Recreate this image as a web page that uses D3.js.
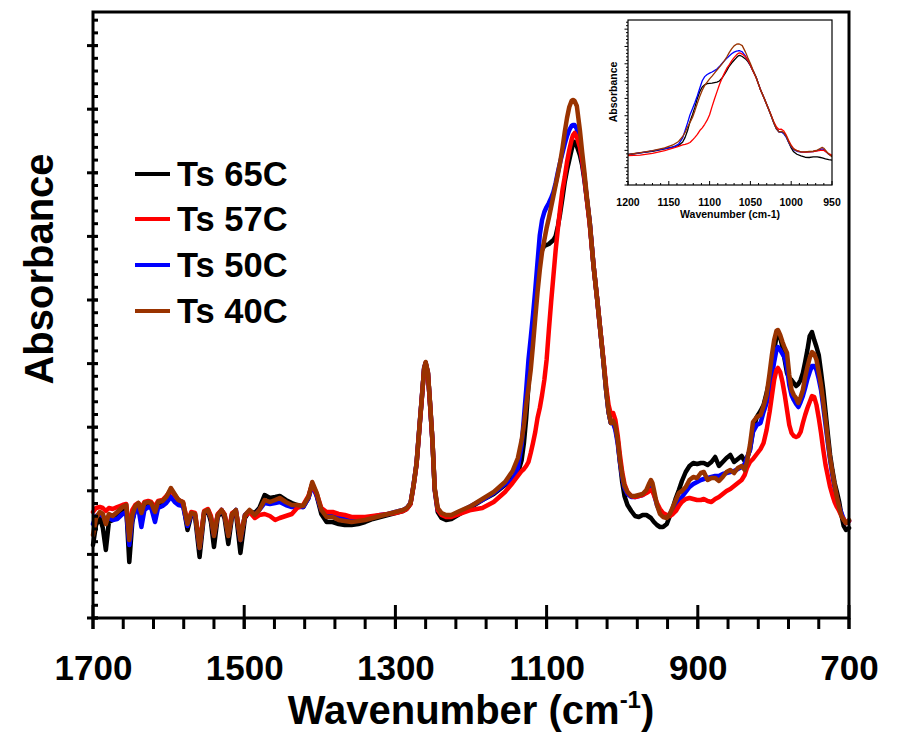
<!DOCTYPE html>
<html><head><meta charset="utf-8">
<script src="https://cdn.jsdelivr.net/npm/d3@7"></script>
<style>
body{margin:0;background:#fff}
text{font-family:"Liberation Sans",Arial,sans-serif;font-weight:bold;fill:#000}
</style>
</head><body>
<svg id="chart" width="899" height="733"></svg>
<script>
// Wavenumber grid (cm-1)
const wavenumbers = [
1700,1696,1691,1687,1683,1679,1674,1668,1661,1656,1652,1648,1644,1640,1636,1632,1627,1623,1618,1614,
1608,1603,1597,1592,1587,1581,1575,1570,1565,1559,1553,1548,1544,1540,1535,1530,1526,1521,1516,1511,
1505,1499,1493,1486,1480,1473,1466,1459,1453,1445,1437,1430,1422,1415,1410,1404,1398,1391,1383,1375,
1367,1358,1349,1340,1330,1320,1310,1300,1290,
1285,1280,1276,1272,1268,1265,1262,1260,1257,1254,1251,1248,1244,1239,1233,
1226,1215,1200,1185,1170,1155,1145,1138,1133,1130,1127,1124,1121,1118,1115,1112,1109,1106,1103,1100,
1097,1094,1091,1088,1085,1082,1079,1076,1073,1070,1067,1065,1063,1060,1056,1053,1050,1047,1043,1038,
1033,1029,1025,1021,1018,1015,1012,1009,1006,1003,1000,997,993,988,983,978,973,968,964,962,
960,958,954,950,946,941,937,933,929,925,921,916,911,906,901,896,892,887,882,877,
872,867,862,857,852,847,842,838,835,831,827,822,817,813,809,805,802,799,796,794,
791,788,785,782,779,776,773,770,767,764,761,758,755,752,749,746,743,740,737,734,
731,728,725,722,719,716,713,710,707,704,701,700];

// Absorbance x1000 (arbitrary offset)
const absTs65 = [
73,93,101,90,68,96,98,102,108,110,56,96,110,113,103,113,114,113,104,114,
116,120,128,123,118,115,88,103,102,61,104,107,96,71,101,107,100,74,102,106,
65,100,107,105,110,123,120,121,122,118,115,113,111,120,134,122,104,96,96,94,
93,93,94,96,99,101,103,105,107,
109,114,132,154,192,220,249,255,245,212,177,128,106,100,98,
99,104,111,118,124,133,140,145,158,175,200,233,258,286,318,343,360,368,372,373,
374,376,378,382,392,405,420,436,448,458,468,474,476,472,463,453,438,420,396,353,
318,288,258,226,206,195,196,190,178,156,136,122,113,107,102,101,103,103,101,100,
98,96,93,91,91,94,102,110,120,128,137,146,152,155,154,155,155,153,156,161,
152,156,160,163,156,159,162,157,160,168,188,201,207,213,225,238,252,268,281,285,
280,271,258,245,240,238,235,232,234,238,245,256,268,282,286,278,271,263,246,228,
206,184,163,148,135,126,116,103,92,88,89,90];

const absTs57 = [
106,110,111,110,107,110,109,111,113,114,85,108,113,115,110,116,117,116,111,117,
118,122,128,123,118,116,96,106,105,73,107,109,102,85,104,108,104,85,105,107,
81,102,106,100,103,104,102,98,100,102,104,110,113,122,134,124,110,106,106,104,
103,101,101,101,102,103,104,105,107,
109,114,132,154,192,220,249,255,245,212,177,129,108,103,101,
101,104,108,110,116,126,135,142,147,149,152,156,165,175,186,200,210,223,238,258,
288,316,342,368,390,410,428,441,456,468,478,483,485,481,471,458,441,420,394,353,
318,288,260,230,213,204,205,198,183,163,146,134,126,122,121,122,123,125,127,128,
127,123,115,109,105,103,102,104,107,112,116,119,120,119,118,118,119,117,116,119,
121,124,127,129,132,135,138,143,150,156,159,164,169,175,188,206,222,238,248,250,
246,236,223,208,193,185,182,181,182,186,195,203,210,216,222,221,213,200,185,168,
153,142,131,123,116,111,107,102,99,95,96,97];

const absTs50 = [
94,102,104,102,98,100,98,99,104,106,73,98,108,110,91,108,111,110,96,110,
112,115,121,116,113,112,92,104,103,70,106,108,100,83,103,108,103,83,104,108,
78,103,107,103,108,115,114,115,116,113,111,111,111,120,133,122,108,104,103,101,
100,98,99,99,101,103,104,106,108,
110,115,133,155,193,221,250,255,245,212,177,129,108,104,102,
102,106,112,118,125,134,138,150,173,200,228,258,280,303,328,356,383,398,406,411,
415,420,426,435,446,456,465,474,482,488,492,493,493,489,473,458,441,421,396,353,
318,288,258,226,206,195,195,188,175,156,141,130,124,121,121,122,123,126,131,133,
130,124,113,106,102,101,104,109,113,117,121,126,131,134,136,138,139,140,141,142,
142,144,145,146,147,149,151,154,160,168,186,193,195,206,215,228,241,256,268,271,
268,264,260,250,233,223,218,214,211,216,222,230,239,246,252,252,248,239,228,211,
193,175,158,143,130,120,111,105,99,95,96,97];

const absTs40 = [
83,100,106,104,94,104,102,106,111,113,78,103,112,115,105,115,116,115,106,116,
117,121,130,124,118,116,94,105,104,70,106,108,100,82,103,108,103,82,104,108,
78,103,108,103,108,118,116,118,120,116,113,113,112,121,136,125,108,101,101,98,
97,96,97,98,100,102,104,106,108,
110,115,133,155,193,221,250,256,246,213,178,130,110,105,103,
103,107,112,119,126,136,147,160,178,193,213,230,248,273,300,326,348,366,378,390,
400,411,422,433,444,456,470,486,500,511,517,518,517,512,488,466,446,423,396,353,
318,288,258,226,206,195,197,192,178,158,143,132,126,122,122,123,124,128,135,138,
135,128,113,104,101,100,104,111,118,125,127,131,138,141,140,145,146,138,140,140,
137,141,146,148,145,150,152,148,156,173,196,201,203,212,223,245,263,278,287,288,
283,276,270,265,243,228,223,220,215,221,228,241,251,260,266,264,258,246,233,216,
198,178,160,146,133,121,111,102,98,95,97,98];

const seriesNames  = ["Ts 65C", "Ts 57C", "Ts 50C", "Ts 40C"];
const seriesValues = [absTs65, absTs57, absTs50, absTs40];
const seriesColors = ["#000000", "#ff0000", "#0000ff", "#993300"];
const drawOrder    = [0, 2, 1, 3];

const xTickLabels      = [1700, 1500, 1300, 1100, 900, 700];
const insetXTickLabels = [1200, 1150, 1100, 1050, 1000, 950];

// ---------- layout / style ----------
const svg = d3.select("#chart");
const P = {l: 93, r: 849, t: 12, b: 618};
const x = d3.scaleLinear().domain([1700, 700]).range([P.l, P.r]);
const y = d3.scaleLinear().domain([0, 606]).range([P.b, P.t]);
const yMajorStep = 63.6, yMinorStep = 12.72;

const n = Math.min(wavenumbers.length, ...seriesValues.map(s => s.length));
const pts = s => d3.range(n).map(i => [wavenumbers[i], s[i]]);

// curves
const line = d3.line().x(d => x(d[0])).y(d => y(d[1]));
const gMain = svg.append("g");
drawOrder.forEach(k => {
  gMain.append("path").datum(pts(seriesValues[k]))
    .attr("d", line).attr("fill", "none")
    .attr("stroke", seriesColors[k]).attr("stroke-width", 4.5)
    .attr("stroke-linejoin", "round").attr("stroke-linecap", "round");
});

// frame
svg.append("rect").attr("x", P.l).attr("y", P.t)
  .attr("width", P.r - P.l).attr("height", P.b - P.t)
  .attr("fill", "none").attr("stroke", "#000").attr("stroke-width", 3);

// x ticks
d3.range(1700, 699, -40).forEach(v => {
  svg.append("line").attr("x1", x(v)).attr("x2", x(v)).attr("y1", P.b).attr("y2", P.b + 11)
    .attr("stroke", "#000").attr("stroke-width", 3);
});
xTickLabels.forEach(v => {
  svg.append("line").attr("x1", x(v)).attr("x2", x(v)).attr("y1", P.b - 13).attr("y2", P.b + 11)
    .attr("stroke", "#000").attr("stroke-width", 3);
});
const xAxis = d3.axisBottom(x).tickValues(xTickLabels).tickSize(0).tickPadding(0).tickFormat(d3.format("d"));
const gx = svg.append("g").attr("transform", `translate(0,${P.b})`).call(xAxis);
gx.select(".domain").remove();
gx.selectAll("text").attr("y", 62).attr("dy", null).style("font-size", "35px")
  .style("font-family", '"Liberation Sans",Arial,sans-serif').style("font-weight", "bold").attr("fill", "#000");

// y ticks (no labels)
const yMaj = d3.range(0, 606, yMajorStep), yMin = d3.range(0, 606, yMinorStep);
yMin.forEach(v => {
  svg.append("line").attr("x1", P.l).attr("x2", P.l + 5).attr("y1", y(v)).attr("y2", y(v))
    .attr("stroke", "#000").attr("stroke-width", 3);
});
yMaj.forEach(v => {
  svg.append("line").attr("x1", P.l - 6).attr("x2", P.l + 5).attr("y1", y(v)).attr("y2", y(v))
    .attr("stroke", "#000").attr("stroke-width", 3);
});

// axis titles
const xt = svg.append("text").attr("x", (P.l + P.r) / 2).attr("y", 724)
  .attr("text-anchor", "middle").style("font-size", "40px");
xt.append("tspan").text("Wavenumber (cm");
xt.append("tspan").text("-1").attr("dy", -16).style("font-size", "24px");
xt.append("tspan").text(")").attr("dy", 16);

svg.append("text").attr("transform", "translate(53,269) rotate(-90)")
  .attr("text-anchor", "middle").style("font-size", "40px").text("Absorbance");

// legend
const legY = [174, 219, 265, 311];
seriesNames.forEach((name, k) => {
  svg.append("line").attr("x1", 135).attr("x2", 170).attr("y1", legY[k]).attr("y2", legY[k])
    .attr("stroke", seriesColors[k]).attr("stroke-width", 4);
  svg.append("text").attr("x", 177).attr("y", legY[k] + 12)
    .style("font-size", "34.5px").text(name);
});

// ---------- inset ----------
const I = {l: 628, r: 832, t: 20, b: 185};
const xi = d3.scaleLinear().domain([1200, 950]).range([I.l, I.r]);
const yi = d3.scaleLinear().domain([0, 606]).range([I.b, I.t]);
svg.append("rect").attr("x", I.l).attr("y", I.t).attr("width", I.r - I.l).attr("height", I.b - I.t)
  .attr("fill", "#fff");
svg.append("clipPath").attr("id", "insetClip").append("rect")
  .attr("x", I.l).attr("y", I.t).attr("width", I.r - I.l).attr("height", I.b - I.t);
const lineI = d3.line().x(d => xi(d[0])).y(d => yi(d[1]));
const gIn = svg.append("g").attr("clip-path", "url(#insetClip)");
drawOrder.forEach(k => {
  gIn.append("path").datum(pts(seriesValues[k]).filter(d => d[0] <= 1205 && d[0] >= 945))
    .attr("d", lineI).attr("fill", "none")
    .attr("stroke", seriesColors[k]).attr("stroke-width", 1.3).attr("stroke-linejoin", "round");
});
svg.append("rect").attr("x", I.l).attr("y", I.t).attr("width", I.r - I.l).attr("height", I.b - I.t)
  .attr("fill", "none").attr("stroke", "#000").attr("stroke-width", 1.2);
d3.range(1200, 949, -10).forEach(v => {
  const maj = v % 50 === 0;
  svg.append("line").attr("x1", xi(v)).attr("x2", xi(v)).attr("y1", I.b).attr("y2", I.b - (maj ? 4 : 2))
    .attr("stroke", "#000").attr("stroke-width", 1);
});
d3.range(0, 606, yMinorStep).forEach((v, i) => {
  const maj = i % 5 === 0;
  svg.append("line").attr("x1", I.l).attr("x2", I.l - (maj ? 3.5 : 2)).attr("y1", yi(v)).attr("y2", yi(v))
    .attr("stroke", "#000").attr("stroke-width", 1);
});
insetXTickLabels.forEach(v => {
  svg.append("text").attr("x", xi(v)).attr("y", 206).attr("text-anchor", "middle")
    .style("font-size", "10.5px").text(v);
});
svg.append("text").attr("x", (I.l + I.r) / 2).attr("y", 218).attr("text-anchor", "middle")
  .style("font-size", "10.5px").text("Wavenumber (cm-1)");
svg.append("text").attr("transform", "translate(617,92) rotate(-90)").attr("text-anchor", "middle")
  .style("font-size", "10.5px").text("Absorbance");
</script>
</body></html>
